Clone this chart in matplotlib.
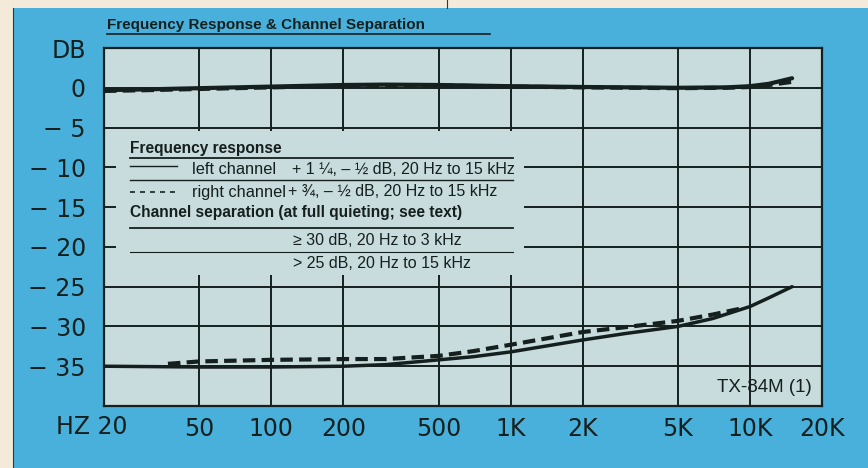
import numpy as np
import matplotlib.pyplot as plt
from matplotlib.patches import Rectangle
from matplotlib.lines import Line2D

# frequency response (dB)
fr_freq = [20, 30, 50, 100, 200, 300, 500, 1000, 2000, 5000, 8000, 10000, 12000, 15000]
fr_left = [-0.3, -0.2, -0.05, 0.15, 0.35, 0.4, 0.35, 0.2, 0.1, 0.0, 0.05, 0.2, 0.5, 1.2]
fr_right = [-0.4, -0.3, -0.15, 0.05, 0.25, 0.3, 0.3, 0.15, 0.05, -0.05, 0.0, 0.1, 0.35, 0.75]

# channel separation (dB)
sep_freq_l = [20, 50, 100, 200, 300, 500, 700, 1000, 2000, 3000, 5000, 7000, 10000, 12000, 15000]
sep_left = [-35, -35.1, -35.1, -35.0, -34.8, -34.2, -33.8, -33.2, -31.7, -30.9, -30.0, -29.0, -27.5, -26.4, -25.0]
sep_freq_r = [37, 50, 100, 200, 300, 500, 700, 1000, 2000, 3000, 5000, 7000, 9000]
sep_right = [-34.7, -34.4, -34.2, -34.1, -34.1, -33.7, -33.1, -32.3, -30.7, -30.1, -29.3, -28.5, -27.8]

xticks = [20, 50, 100, 200, 500, 1000, 2000, 5000, 10000, 20000]
xlabels = ["", "50", "100", "200", "500", "1K", "2K", "5K", "10K", "20K"]
yticks = [-35, -30, -25, -20, -15, -10, -5, 0, 5]
ylabels = ["\u2212 35", "\u2212 30", "\u2212 25", "\u2212 20", "\u2212 15", "\u2212 10", "\u2212 5", "0", "DB"]

BLUE = "#48b0da"
PANEL = "#c8dbdd"
INK = "#15201e"
W, H = 868, 468

fig = plt.figure(figsize=(W / 100, H / 100), dpi=100, facecolor="#f3ead9")


def px(x, y):
    return x / W, 1 - y / H


# blue frame
fig.add_artist(Rectangle(px(13, H), (W - 13) / W, (H - 8) / H, transform=fig.transFigure,
                         facecolor=BLUE, edgecolor="none", zorder=-10))
fig.add_artist(Line2D([13 / W, 13 / W], [0, 1 - 8 / H], transform=fig.transFigure, color="#2a3a40", lw=0.8))
fig.add_artist(Line2D([447 / W, 447 / W], [1 - 8 / H, 1], transform=fig.transFigure, color="#2a3a40", lw=0.8))

ax = fig.add_axes([104 / W, 1 - 406 / H, 718 / W, 358 / H])
ax.set_facecolor(PANEL)
ax.set_xscale("log")
ax.set_xlim(20, 20000)
ax.set_ylim(-40, 5)

ax.set_xticks(xticks)
ax.set_xticklabels(xlabels)
ax.minorticks_off()
ax.set_yticks(yticks)
ax.set_yticklabels(ylabels)
ax.tick_params(length=0, labelsize=17, colors=INK)
ax.tick_params(axis="x", pad=8)
ax.tick_params(axis="y", pad=13)
ax.grid(True, color=INK, lw=1.4)
ax.set_axisbelow(True)
for s in ax.spines.values():
    s.set_color(INK)
    s.set_linewidth(1.6)

ax.plot(fr_freq, fr_left, color=INK, lw=3.0, solid_capstyle="round")
ax.plot(fr_freq, fr_right, color=INK, lw=3.0, ls=(0, (3, 1.5)))
ax.plot(sep_freq_l, sep_left, color=INK, lw=2.5, solid_capstyle="round")
ax.plot(sep_freq_r, sep_right, color=INK, lw=3.0, ls=(0, (3, 1.5)))

# labels outside the axes
fig.text(*px(56, 427), "HZ 20", fontsize=17, color=INK, ha="left", va="center")
fig.text(*px(812, 388), "TX-84M (1)", fontsize=13.5, family="Liberation Sans", color=INK,
         ha="right", va="center")

# title
fig.text(*px(107, 25), "Frequency Response & Channel Separation", fontsize=11,
         family="Liberation Sans", weight="bold", color=INK, ha="left", va="center")
fig.add_artist(Line2D([107 / W, 490 / W], [1 - 34 / H] * 2, transform=fig.transFigure, color=INK, lw=1.2))

# legend box
fig.add_artist(Rectangle(px(116, 275), (524 - 116) / W, (275 - 131) / H, transform=fig.transFigure,
                         facecolor=PANEL, edgecolor="none", zorder=2))


def hline(y, x0=130, x1=513, lw=1.0):
    fig.add_artist(Line2D([x0 / W, x1 / W], [1 - y / H] * 2, transform=fig.transFigure,
                          color=INK, lw=lw, zorder=3))


def txt(x, y, s, bold=False, size=11.5):
    fig.text(*px(x, y), s, fontsize=size, family="Liberation Sans",
             weight="bold" if bold else "normal", color=INK, ha="left", va="center", zorder=4)


txt(130, 148, "Frequency response", bold=True, size=11.2)
hline(158, lw=1.3)
fig.add_artist(Line2D([130 / W, 177 / W], [1 - 166 / H] * 2, transform=fig.transFigure,
                      color=INK, lw=1.0, zorder=3))
txt(192, 170, "left channel", size=11.8)
txt(292, 170, "+ 1 \u00bc, \u2013 \u00bd dB, 20 Hz to 15 kHz", size=11.5)
hline(180)
fig.add_artist(Line2D([130 / W, 180 / W], [1 - 192 / H] * 2, transform=fig.transFigure,
                      color=INK, lw=1.2, ls=(0, (3, 3)), zorder=3))
txt(192, 192, "right channel", size=11.8)
txt(288, 192, "+ \u00be, \u2013 \u00bd dB, 20 Hz to 15 kHz", size=11.5)
txt(130, 212, "Channel separation (at full quieting; see text)", bold=True, size=11.2)
hline(228, lw=1.3)
txt(293, 241, "\u2265 30 dB, 20 Hz to 3 kHz", size=11.5)
hline(252, lw=0.8)
txt(293, 263, "> 25 dB, 20 Hz to 15 kHz", size=11.5)

fig.savefig("out.png", dpi=100, facecolor=fig.get_facecolor())
